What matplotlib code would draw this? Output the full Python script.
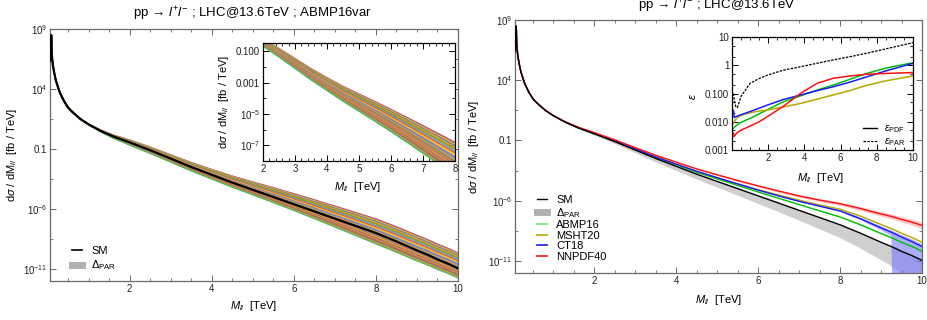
import numpy as np
import matplotlib
matplotlib.use("Agg")
import matplotlib.pyplot as plt
from matplotlib.ticker import FixedLocator, NullFormatter
from matplotlib.lines import Line2D

plt.rcParams['font.family'] = ['Liberation Sans', 'DejaVu Sans']
plt.rcParams['mathtext.fontset'] = 'custom'
plt.rcParams['mathtext.rm'] = 'Liberation Sans'
plt.rcParams['mathtext.it'] = 'Liberation Sans:italic'
plt.rcParams['mathtext.bf'] = 'Liberation Sans:bold'

# ---- SM spectrum, log10(dsigma/dM) in fb/TeV ----
mll_low = [0.06, 0.075, 0.085, 0.091, 0.1, 0.11, 0.13, 0.16, 0.2, 0.25, 0.3, 0.4, 0.5, 0.6, 0.8]
sm_log_low = [6.4, 7.0, 7.8, 8.5, 7.2, 6.6, 6.0, 5.4, 4.75, 4.2, 3.7, 3.0, 2.45, 2.1, 1.5]
mll_tail = [1.0, 1.3, 1.6, 2.0, 2.5, 3.0, 3.5, 4.0, 4.5, 5.0, 5.5, 6.0, 6.5, 7.0, 7.5, 8.0,
            8.5, 9.0, 9.25, 9.5, 9.75, 10.0]
sm_log_tail = [1.05, 0.5, 0.05, -0.45, -1.1, -1.8, -2.5, -3.15, -3.8, -4.4, -5.0, -5.6, -6.2,
               -6.8, -7.4, -8.0, -8.7, -9.45, -9.8, -10.2, -10.55, -10.95]

# ABMP16var envelope (log10 offsets from SM on the tail grid)
var_up = [0.02, 0.07, 0.12, 0.2, 0.26, 0.32, 0.38, 0.45, 0.55, 0.66, 0.78, 0.88, 0.97, 1.05,
          1.12, 1.18, 1.23, 1.26, 1.27, 1.28, 1.29, 1.3]
var_dn = [-0.02, -0.08, -0.14, -0.22, -0.26, -0.29, -0.32, -0.35, -0.38, -0.42, -0.46, -0.52,
          -0.6, -0.7, -0.8, -0.9, -0.9, -0.87, -0.85, -0.83, -0.81, -0.8]
# position of each member inside the envelope and its colour (Mathematica palette)
var_pos = [1.0, 0.97, 0.94, 0.9, 0.85, 0.8, 0.74, 0.68, 0.62, 0.56, 0.52, 0.48, 0.44, 0.4,
           0.36, 0.33, 0.3, 0.27, 0.24, 0.21, 0.18, 0.15, 0.12, 0.09, 0.06, 0.03, 0.0]
var_col = ['#BC5B80', '#A5609D', '#FFBF00', '#5E81B5', '#E19C24', '#929600', '#5D9EC7',
           '#E95536', '#FFBF00', '#6685D9', '#8778B3', '#F89F13', '#5D9EC7', '#C56E1A',
           '#E19C24', '#6685D9', '#EB6235', '#FFBF00', '#5E81B5', '#E95536', '#F89F13',
           '#8778B3', '#C56E1A', '#A5609D', '#8FB032', '#E19C24', '#47B66D']

# Delta_PAR band (log10 offsets from SM)
par_up = [0, 0.01, 0.02, 0.02, 0.03, 0.03, 0.03, 0.03, 0.03, 0.03, 0.03, 0.03, 0.03, 0.03, 0.03,
          0.03, 0.03, 0.03, 0.03, 0.03, 0.03, 0.03]
par_dn = [0, -0.03, -0.07, -0.12, -0.17, -0.22, -0.28, -0.34, -0.4, -0.47, -0.55, -0.63, -0.72,
          -0.82, -0.94, -1.08, -1.25, -1.45, -1.6, -1.8, -2.0, -2.3]

# PDF sets: central offsets from SM and half band widths (log10)
pdf_names = ['ABMP16', 'MSHT20', 'CT18', 'NNPDF40']
pdf_colors = ['#00c000', '#b5a800', '#1a1aff', '#ff1010']
pdf_handle_colors = ['#66ee66', '#b5a800', '#1a1aff', '#ff1010']
pdf_band_colors = ['#99ee99', '#ddd488', '#7777ff', '#ff9999']
off_abmp = [0, 0.005, 0.01, 0.02, 0.04, 0.06, 0.09, 0.12, 0.16, 0.21, 0.27, 0.33, 0.4, 0.48,
            0.56, 0.65, 0.7, 0.73, 0.74, 0.75, 0.76, 0.76]
off_msht = [0, 0.01, 0.02, 0.04, 0.06, 0.09, 0.13, 0.18, 0.24, 0.31, 0.4, 0.52, 0.67, 0.85,
            1.05, 1.3, 1.42, 1.48, 1.49, 1.5, 1.5, 1.5]
off_ct18 = [0, 0.01, 0.02, 0.04, 0.06, 0.09, 0.13, 0.18, 0.24, 0.31, 0.39, 0.48, 0.6, 0.75,
            0.95, 1.15, 1.2, 1.2, 1.19, 1.18, 1.16, 1.15]
off_nnpdf = [0, 0.03, 0.06, 0.1, 0.15, 0.2, 0.27, 0.35, 0.44, 0.55, 0.68, 0.83, 1.0, 1.2, 1.45,
             1.75, 2.05, 2.35, 2.5, 2.65, 2.78, 2.9]
w_abmp = [0, 0.005, 0.005, 0.01, 0.01, 0.01, 0.015, 0.015, 0.02, 0.02, 0.025, 0.03, 0.03, 0.035,
          0.04, 0.045, 0.05, 0.055, 0.06, 0.065, 0.07, 0.075]
w_msht = [0, 0.005, 0.005, 0.01, 0.01, 0.01, 0.015, 0.015, 0.02, 0.02, 0.02, 0.025, 0.025, 0.03,
          0.03, 0.035, 0.04, 0.045, 0.05, 0.05, 0.055, 0.06]
w_ct18_up = [0, 0.005, 0.005, 0.01, 0.01, 0.015, 0.015, 0.02, 0.025, 0.03, 0.035, 0.04, 0.05,
             0.06, 0.07, 0.08, 0.1, 0.13, 0.15, 0.17, 0.19, 0.2]
w_ct18_dn = [0, 0.005, 0.005, 0.01, 0.01, 0.015, 0.015, 0.02, 0.025, 0.03, 0.035, 0.04, 0.05,
             0.06, 0.07, 0.08, 0.12, 0.2, 0.3, 40, 40, 40]
w_nnpdf = [0, 0.008, 0.01, 0.015, 0.02, 0.03, 0.04, 0.05, 0.06, 0.07, 0.08, 0.09, 0.1, 0.11,
           0.12, 0.14, 0.16, 0.18, 0.2, 0.21, 0.23, 0.25]

# ---- relative uncertainties epsilon (log10) ----
eps_x = [0.08, 0.12, 0.2, 0.3, 0.5, 1.0, 1.5, 2.0, 2.8, 3.8, 4.7, 5.6, 6.5, 7.4, 8.5, 10.0]
eps_par = [-1.0, -1.2, -1.45, -1.5, -1.1, -0.64, -0.47, -0.34, -0.18, -0.05, 0.07, 0.19, 0.3,
           0.42, 0.58, 0.8]
eps_abmp = [-2.23, -2.2, -2.15, -2.1, -2.02, -1.88, -1.72, -1.56, -1.3, -1.08, -0.88, -0.7, -0.5,
            -0.3, -0.1, 0.09]
eps_msht = [-2.06, -2.0, -1.92, -1.85, -1.77, -1.68, -1.62, -1.58, -1.48, -1.35, -1.2, -1.05,
            -0.9, -0.72, -0.55, -0.38]
eps_ct18 = [-1.6, -1.85, -1.82, -1.8, -1.75, -1.64, -1.52, -1.4, -1.22, -1.05, -0.9, -0.76, -0.6,
            -0.42, -0.2, 0.07]
eps_nnpdf = [-2.4, -2.53, -2.45, -2.38, -2.3, -2.15, -2.0, -1.8, -1.47, -0.99, -0.64, -0.46,
             -0.38, -0.32, -0.29, -0.26]

mll = np.array(mll_low + mll_tail)
sm_log = np.array(sm_log_low + sm_log_tail)
n_low = len(mll_low)


def shifted(off):
    full = np.zeros(len(mll))
    full[n_low:] = off
    return sm_log + full


def style(ax, fc, xmaj, xmin, ymaj, ylab, ymin):
    for s in ax.spines.values():
        s.set_color(fc)
        s.set_linewidth(0.9)
    ax.set_yscale('log')
    ax.xaxis.set_major_locator(FixedLocator(xmaj))
    ax.xaxis.set_minor_locator(FixedLocator(xmin))
    ax.set_xticklabels([f"{v:g}" for v in xmaj])
    ax.yaxis.set_major_locator(FixedLocator(ymaj))
    ax.yaxis.set_minor_locator(FixedLocator(ymin))
    ax.yaxis.set_minor_formatter(NullFormatter())
    ax.set_yticklabels(ylab)
    ax.tick_params(which='both', direction='in', top=True, right=True, color=fc,
                   labelsize=7, labelcolor='#222222', pad=2)
    ax.tick_params(which='major', length=4, width=0.7)
    ax.tick_params(which='minor', length=2, width=0.6)


fig = plt.figure(figsize=(9.27, 3.2), dpi=100)
W, H = 927.0, 320.0


def add(x0, y0, x1, y1):
    return fig.add_axes([x0 / W, 1 - y1 / H, (x1 - x0) / W, (y1 - y0) / H])


main_ymaj = [1e-11, 1e-6, 1e-1, 1e4, 1e9]
main_ylab = ['$10^{-11}$', '$10^{-6}$', '0.1', '$10^{4}$', '$10^{9}$']
main_ymin = [10 ** (-8.5), 10 ** (-3.5), 10 ** 1.5, 10 ** 6.5]
main_xmaj = [2, 4, 6, 8, 10]
main_xmin = [0.5, 1, 1.5, 2.5, 3, 3.5, 4.5, 5, 5.5, 6.5, 7, 7.5, 8.5, 9, 9.5]
ylabel_txt = r'd$\sigma$ / dM$_{ll}$  [fb / TeV]'
xlabel_txt = r'$M_{ll}$  [TeV]'
frame_gray = '#6a6a6a'

# ================= left panel =================
axL = add(50, 29, 458, 281)
band_up = shifted(var_up)
band_dn = shifted(var_dn)
axL.fill_between(mll, 10 ** band_dn, 10 ** band_up, color='#c4c4c4', lw=0, zorder=1)
for p, c in zip(var_pos, var_col):
    yv = band_dn + p * (band_up - band_dn)
    axL.plot(mll, 10 ** yv, color=c, lw=0.9, zorder=2)
axL.plot(mll, 10 ** sm_log, color='black', lw=1.6, zorder=4)
axL.set_xlim(0.06, 10)
axL.set_ylim(1e-12, 1e9)
style(axL, frame_gray, main_xmaj, main_xmin, main_ymaj, main_ylab, main_ymin)
axL.set_xlabel(xlabel_txt, fontsize=8)
axL.xaxis.set_label_coords(0.5, -0.072)
axL.set_ylabel(ylabel_txt, fontsize=8)
axL.yaxis.set_label_coords(-0.076, 0.5)
axL.legend(handles=[Line2D([], [], color='black', lw=1.2),
                    Line2D([], [], color='#b0b0b0', lw=5)],
           labels=['SM', r'$\Delta_{\rm PAR}$'], loc='lower left',
           bbox_to_anchor=(0.03, -0.005), frameon=False, fontsize=8,
           handlelength=0.9, handletextpad=0.8, labelspacing=0.2)

# inset of left panel
insL = add(263, 43, 455, 161)
for p, c in zip(var_pos, var_col):
    yv = band_dn + p * (band_up - band_dn)
    insL.plot(mll, 10 ** yv, color=c, lw=1.1)
insL.set_xlim(2, 8)
insL.set_ylim(1e-8, 0.33)
style(insL, 'black', [2, 3, 4, 5, 6, 7, 8],
      [v / 5 for v in range(10, 41) if v % 5], [1e-7, 1e-5, 1e-3, 1e-1],
      ['$10^{-7}$', '$10^{-5}$', '0.001', '0.100'], [1e-8, 1e-6, 1e-4, 1e-2])
insL.set_xlabel(xlabel_txt, fontsize=8)
insL.xaxis.set_label_coords(0.49, -0.16)
insL.set_ylabel(ylabel_txt, fontsize=8)
insL.yaxis.set_label_coords(-0.165, 0.5)

# ================= right panel =================
axR = add(515, 20, 922, 273)
axR.fill_between(mll, 10 ** shifted(par_dn), 10 ** shifted(par_up), color='#cfcfcf', lw=0, zorder=1)
pdf_off = [off_abmp, off_msht, off_ct18, off_nnpdf]
pdf_wup = [w_abmp, w_msht, w_ct18_up, w_nnpdf]
pdf_wdn = [w_abmp, w_msht, w_ct18_dn, w_nnpdf]
for off, wu, wd, bc in zip(pdf_off, pdf_wup, pdf_wdn, pdf_band_colors):
    cen = np.array(off)
    axR.fill_between(mll, 10 ** shifted(cen - np.array(wd)), 10 ** shifted(cen + np.array(wu)),
                     color=bc, alpha=0.6, lw=0, zorder=2)
for off, c in zip(pdf_off, pdf_colors):
    axR.plot(mll, 10 ** shifted(off), color=c, lw=1.0, zorder=3)
axR.plot(mll, 10 ** sm_log, color='black', lw=1.0, zorder=4)
axR.set_xlim(0.06, 10)
axR.set_ylim(1e-12, 1e9)
style(axR, frame_gray, main_xmaj, main_xmin, main_ymaj, main_ylab, main_ymin)
axR.set_xlabel(xlabel_txt, fontsize=8)
axR.xaxis.set_label_coords(0.5, -0.078)
axR.set_ylabel(ylabel_txt, fontsize=8)
axR.yaxis.set_label_coords(-0.083, 0.5)
handles = [Line2D([], [], color='black', lw=1.0), Line2D([], [], color='#b0b0b0', lw=5)]
handles += [Line2D([], [], color=c, lw=1.2) for c in pdf_handle_colors]
axR.legend(handles=handles, labels=['SM', r'$\Delta_{\rm PAR}$'] + pdf_names, loc='lower left',
           bbox_to_anchor=(0.03, 0.005), frameon=False, fontsize=8,
           handlelength=0.9, handletextpad=0.8, labelspacing=0.05)

# inset of right panel
insR = add(732, 37, 913, 150)
insR.plot(eps_x, 10 ** np.array(eps_par), color='black', lw=0.9, ls=(0, (2.0, 1.0)))
for e, c in zip([eps_abmp, eps_msht, eps_ct18, eps_nnpdf], pdf_colors):
    insR.plot(eps_x, 10 ** np.array(e), color=c, lw=1.1)
insR.set_xlim(0.0, 10)
insR.set_ylim(1e-3, 10)
style(insR, 'black', [2, 4, 6, 8, 10], [0.5, 1, 1.5, 2.5, 3, 3.5, 4.5, 5, 5.5, 6.5, 7, 7.5, 8.5, 9, 9.5],
      [1e-3, 1e-2, 1e-1, 1, 10], ['0.001', '0.010', '0.100', '1', '10'],
      [k * 10.0 ** d for d in range(-3, 1) for k in (2, 5)])
insR.set_xlabel(xlabel_txt, fontsize=8)
insR.xaxis.set_label_coords(0.49, -0.19)
insR.set_ylabel(r'$\epsilon$', fontsize=8)
insR.yaxis.set_label_coords(-0.19, 0.47)
insR.legend(handles=[Line2D([], [], color='black', lw=1.0),
                     Line2D([], [], color='black', lw=0.9, ls=(0, (2.0, 1.0)))],
            labels=[r'$\epsilon_{\rm PDF}$', r'$\epsilon_{\rm PAR}$'], loc='lower right',
            bbox_to_anchor=(0.99, -0.04), frameon=False, fontsize=7.5, borderaxespad=0.2,
            handlelength=1.4, handletextpad=0.6, labelspacing=0.1)

fig.text(253 / W, 1 - 14 / H, r'pp → $l^{+}l^{-}$ ; LHC@13.6TeV ; ABMP16var',
         ha='center', va='center', fontsize=9.5)
fig.text(717 / W, 1 - 5.5 / H, r'pp → $l^{+}l^{-}$ ; LHC@13.6TeV',
         ha='center', va='center', fontsize=9.5)

fig.savefig('out.png', dpi=100)
